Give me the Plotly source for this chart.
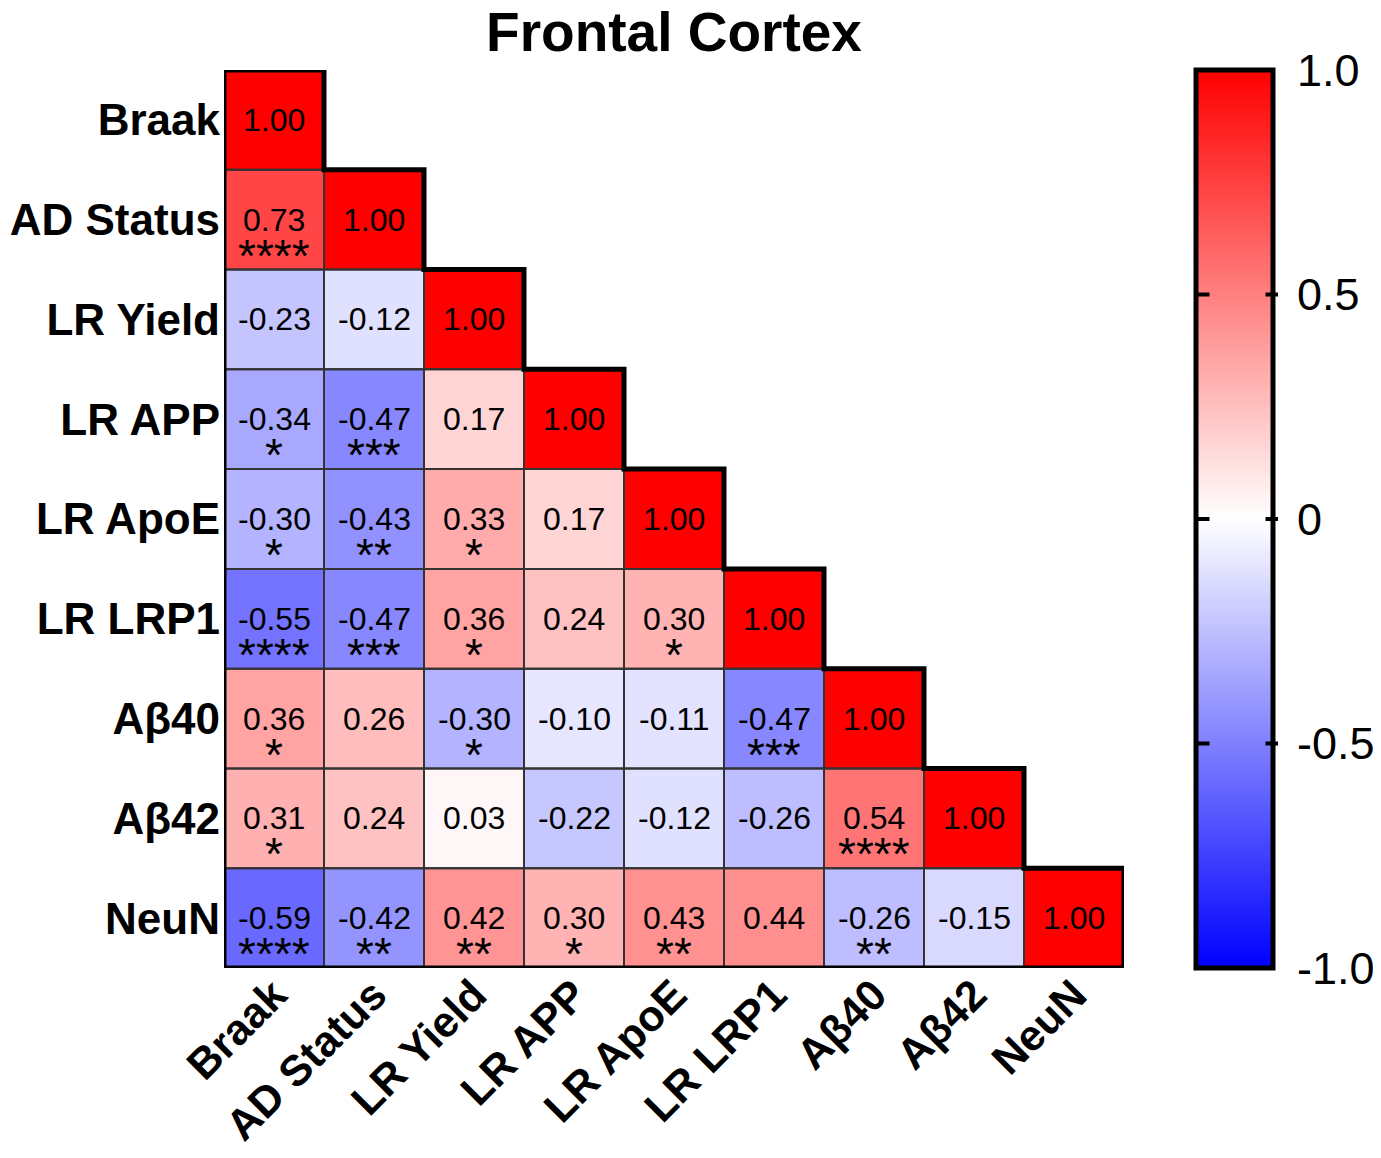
import plotly.graph_objects as go

labels = ["Braak", "AD Status", "LR Yield", "LR APP", "LR ApoE", "LR LRP1", "Aβ40", "Aβ42", "NeuN"]

# lower-triangle correlation rows (row i has i+1 values)
r_vals = [
    [1.00],
    [0.73, 1.00],
    [-0.23, -0.12, 1.00],
    [-0.34, -0.47, 0.17, 1.00],
    [-0.30, -0.43, 0.33, 0.17, 1.00],
    [-0.55, -0.47, 0.36, 0.24, 0.30, 1.00],
    [0.36, 0.26, -0.30, -0.10, -0.11, -0.47, 1.00],
    [0.31, 0.24, 0.03, -0.22, -0.12, -0.26, 0.54, 1.00],
    [-0.59, -0.42, 0.42, 0.30, 0.43, 0.44, -0.26, -0.15, 1.00],
]
stars = [
    [""],
    ["****", ""],
    ["", "", ""],
    ["*", "***", "", ""],
    ["*", "**", "*", "", ""],
    ["****", "***", "*", "", "*", ""],
    ["*", "", "*", "", "", "***", ""],
    ["*", "", "", "", "", "", "****", ""],
    ["****", "**", "**", "*", "**", "", "**", "", ""],
]
cbar_vals = [1.0, 0.5, 0, -0.5, -1.0]
cbar_text = ["1.0", "0.5", "0", "-0.5", "-1.0"]

n = len(labels)
z = [[(r_vals[i][j] if j <= i else None) for j in range(n)] for i in range(n)]

FONT = "Liberation Sans, Arial, sans-serif"
FIG_W, FIG_H = 1373, 1142
M_L, M_T = 216, 62
PLOT_W, PLOT_H = 900, 898
M_R = FIG_W - M_L - PLOT_W
M_B = FIG_H - M_T - PLOT_H
CB_X = (1196 - 8 - M_L) / PLOT_W
CB_THICK = 77

fig = go.Figure()
fig.add_trace(go.Heatmap(
    z=z, x=list(range(n)), y=list(range(n)),
    zmin=-1, zmax=1,
    colorscale=[[0, "rgb(0,0,255)"], [0.5, "rgb(255,255,255)"], [1, "rgb(255,0,0)"]],
    hoverongaps=False,
    colorbar=dict(
        x=CB_X, xanchor="left", xpad=0, y=0.5, yanchor="middle", ypad=0,
        lenmode="fraction", len=1.0, thickness=CB_THICK,
        outlinewidth=5, outlinecolor="black",
        tickvals=cbar_vals, ticktext=cbar_text,
        ticks="outside", ticklen=13, tickwidth=1, tickcolor="rgba(0,0,0,0)",
        tickfont=dict(family=FONT, size=45, color="black"),
    ),
))

shapes = []
annotations = []
for i in range(n):
    for j in range(i + 1):
        shapes.append(dict(type="rect", xref="x", yref="y",
                           x0=j - 0.5, x1=j + 0.5, y0=i - 0.5, y1=i + 0.5,
                           line=dict(color="#333333", width=2)))
        annotations.append(dict(x=j, y=i, xref="x", yref="y", text=f"{r_vals[i][j]:.2f}",
                                showarrow=False, font=dict(family=FONT, size=32, color="black")))
        if stars[i][j]:
            annotations.append(dict(x=j, y=i, xref="x", yref="y", text=stars[i][j],
                                    showarrow=False, yshift=-36,
                                    font=dict(family=FONT, size=46, color="black")))

# staircase outline of the lower triangle
pts = [(-0.5, -0.5)]
for k in range(n):
    pts.append((k + 0.5, k - 0.5))
    pts.append((k + 0.5, k + 0.5))
pts.append((n - 0.5, n - 0.5))
pts.append((-0.5, n - 0.5))
path = "M " + " L ".join(f"{x},{y}" for x, y in pts) + " Z"
shapes.append(dict(type="path", xref="x", yref="y", path=path,
                   line=dict(color="black", width=5)))

# inner tick marks on both sides of the colour bar (arrow-less annotation lines)
cb_left = CB_X + 1 / PLOT_W
cb_right = CB_X + (CB_THICK + 5) / PLOT_W
for v in cbar_vals[1:-1]:
    yp = (v + 1) / 2
    for xp, dx in ((cb_left, 14), (cb_right, -14)):
        annotations.append(dict(x=xp, y=yp, xref="paper", yref="paper", text="",
                                showarrow=True, arrowhead=0, arrowwidth=4, arrowcolor="black",
                                ax=dx, ay=0, axref="pixel", ayref="pixel",
                                standoff=0, startstandoff=0))

fig.update_layout(
    width=FIG_W, height=FIG_H,
    margin=dict(l=M_L, r=M_R, t=M_T, b=M_B, autoexpand=False),
    plot_bgcolor="white", paper_bgcolor="white",
    title=dict(text="<b>Frontal Cortex</b>", x=0.5, xanchor="center", xref="paper",
               y=1 - 24 / FIG_H, yref="container", yanchor="middle",
               font=dict(family=FONT, size=55, color="black")),
    shapes=shapes, annotations=annotations,
    xaxis=dict(range=[-0.5, n - 0.5], tickvals=list(range(n)),
               ticktext=[f"<b>{l}</b>" for l in labels], tickangle=-45,
               ticklabelstandoff=-8,
               showgrid=False, zeroline=False, showline=False, ticks="",
               tickfont=dict(family=FONT, size=43, color="black")),
    yaxis=dict(range=[n - 0.5, -0.5], tickvals=list(range(n)),
               ticktext=[f"<b>{l}</b>" for l in labels],
               ticklabelstandoff=3,
               showgrid=False, zeroline=False, showline=False, ticks="",
               tickfont=dict(family=FONT, size=44, color="black")),
)

fig.write_html("out.html")
